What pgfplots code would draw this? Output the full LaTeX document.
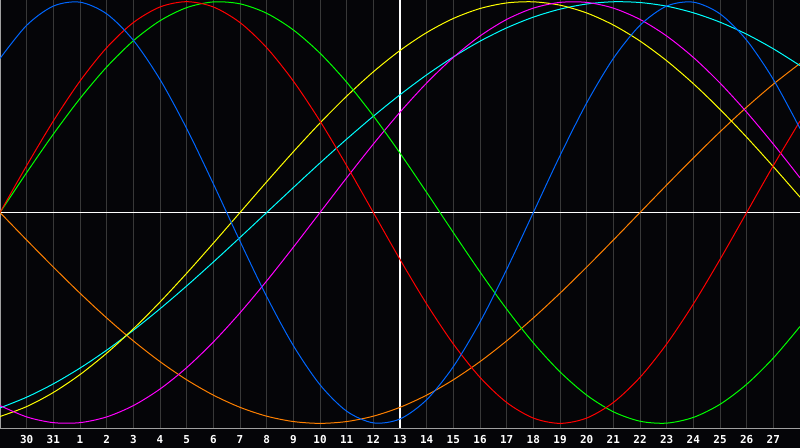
\documentclass[border=0pt]{standalone}
\usepackage{pgfplots}
\pgfplotsset{compat=1.18}
\usepackage{pgfplotstable}
\usepackage{fontspec}
\newfontfamily\lblfont{DejaVu Sans Mono}

\definecolor{bg}{HTML}{050508}
\definecolor{gridgray}{HTML}{383838}
\definecolor{framegray}{HTML}{A0A0A0}
\definecolor{cphy}{HTML}{0066FF}
\definecolor{cemo}{HTML}{FF0000}
\definecolor{cint}{HTML}{00FF00}
\definecolor{cintu}{HTML}{FF00FF}
\definecolor{caes}{HTML}{FFFF00}
\definecolor{cawa}{HTML}{FF8000}
\definecolor{cspi}{HTML}{00FFFF}

% day index k = 0..30 (k=0 is the 29th), values from -1 to 1
\pgfplotstableread{
k  phy     emo     int     intu    aes     awa     spi
0  0.7308  0       0       -0.9158 -0.9675 0       -0.9267
1  0.8879  0.2225  0.1893  -0.9694 -0.9204 -0.1305 -0.8758
2  0.9791  0.4339  0.3717  -0.9966 -0.8535 -0.2588 -0.8126
3  0.9977  0.6235  0.5406  -0.9966 -0.7686 -0.3827 -0.7378
4  0.9423  0.7818  0.6901  -0.9694 -0.6673 -0.5    -0.6529
5  0.8170  0.9010  0.8146  -0.9158 -0.5517 -0.6088 -0.5586
6  0.6311  0.9749  0.9096  -0.8372 -0.4245 -0.7071 -0.4566
7  0.3984  1       0.9718  -0.7357 -0.2881 -0.7934 -0.3482
8  0.1362  0.9749  0.9989  -0.6142 -0.1456 -0.8660 -0.2349
9  -0.1362 0.9010  0.9898  -0.4759 0       -0.9239 -0.1183
10 -0.3984 0.7818  0.9450  -0.3247 0.1456  -0.9659 0
11 -0.6311 0.6235  0.8660  -0.1646 0.2881  -0.9914 0.1183
12 -0.8170 0.4339  0.7557  0       0.4245  -1      0.2349
13 -0.9423 0.2225  0.6182  0.1646  0.5517  -0.9914 0.3482
14 -0.9977 0       0.4582  0.3247  0.6673  -0.9659 0.4566
15 -0.9791 -0.2225 0.2817  0.4759  0.7686  -0.9239 0.5586
16 -0.8879 -0.4339 0.0951  0.6142  0.8535  -0.8660 0.6529
17 -0.7308 -0.6235 -0.0951 0.7357  0.9204  -0.7934 0.7378
18 -0.5196 -0.7818 -0.2817 0.8372  0.9675  -0.7071 0.8126
19 -0.2698 -0.9010 -0.4582 0.9158  0.9940  -0.6088 0.8758
20 0       -0.9749 -0.6182 0.9694  0.9993  -0.5    0.9267
21 0.2698  -1      -0.7557 0.9966  0.9834  -0.3827 0.9646
22 0.5196  -0.9749 -0.8660 0.9966  0.9465  -0.2588 0.9890
23 0.7308  -0.9010 -0.9450 0.9694  0.8894  -0.1305 0.9996
24 0.8879  -0.7818 -0.9898 0.9158  0.8133  0       0.9960
25 0.9791  -0.6235 -0.9989 0.8372  0.7199  0.1305  0.9786
26 0.9977  -0.4339 -0.9718 0.7357  0.6112  0.2588  0.9473
27 0.9423  -0.2225 -0.9096 0.6142  0.4894  0.3827  0.9028
28 0.8170  0       -0.8146 0.4759  0.3572  0.5     0.8456
29 0.6311  0.2225  -0.6901 0.3247  0.2174  0.6088  0.7765
30 0.3984  0.4339  -0.5406 0.1646  0.0730  0.7071  0.6969
}\bio

\begin{document}
\begin{tikzpicture}
\fill[bg] (0,-20bp) rectangle (800bp,428bp);
\begin{axis}[
  scale only axis,
  width=800bp, height=428bp,
  xmin=0, xmax=30, ymin=-1.022, ymax=1.008,
  axis line style={draw=framegray, line width=1bp},
  xtick={1,...,29},
  xticklabels={30,31,1,2,3,4,5,6,7,8,9,10,11,12,13,14,15,16,17,18,19,20,21,22,23,24,25,26,27},
  ytick=\empty,
  major tick length=0pt,
  xmajorgrids,
  grid style={gridgray, line width=1bp},
  xticklabel style={font=\lblfont\bfseries\fontsize{11}{11}\selectfont, text=white, yshift=-4bp},
  extra x ticks={15}, extra x tick labels={},
  extra x tick style={grid style={white, line width=1.2bp}},
  extra y ticks={0}, extra y tick labels={},
  extra y tick style={grid style={white, line width=1.2bp}, ymajorgrids},
  every axis plot/.append style={line width=1bp, smooth, no markers},
]
\addplot[cawa] table[x=k, y=awa] {\bio};
\addplot[cspi] table[x=k, y=spi] {\bio};
\addplot[caes] table[x=k, y=aes] {\bio};
\addplot[cintu] table[x=k, y=intu] {\bio};
\addplot[cint] table[x=k, y=int] {\bio};
\addplot[cemo] table[x=k, y=emo] {\bio};
\addplot[cphy] table[x=k, y=phy] {\bio};
\end{axis}
\pgfresetboundingbox
\path[use as bounding box] (0,-20bp) rectangle (800bp,428bp);
\end{tikzpicture}
\end{document}
